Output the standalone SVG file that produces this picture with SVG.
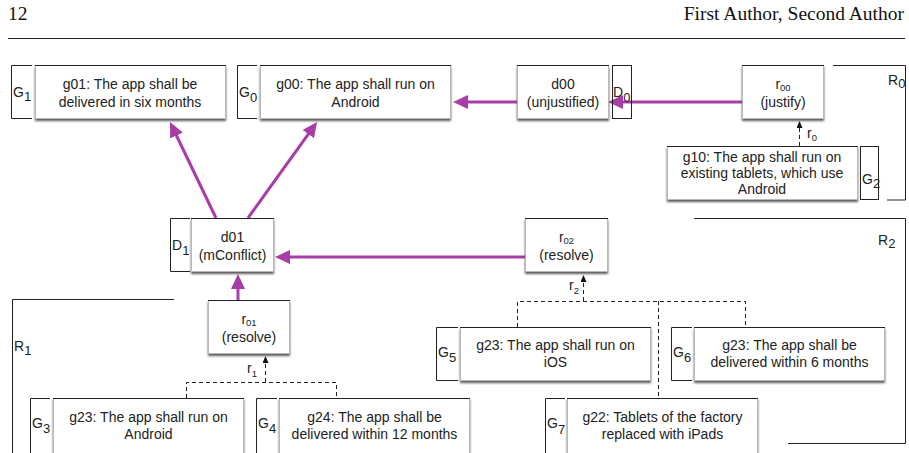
<svg xmlns="http://www.w3.org/2000/svg" width="909" height="453" viewBox="0 0 909 453">
<defs>
<filter id="sh" x="-5%" y="-10%" width="110%" height="130%">
<feDropShadow dx="0" dy="2" stdDeviation="1.2" flood-color="#333" flood-opacity="0.8"/>
</filter>
<marker id="ap" markerUnits="userSpaceOnUse" markerWidth="16" markerHeight="14" refX="5" refY="7" orient="auto">
<path d="M0,0 L15,7 L0,14 z" fill="#A83DA8"/>
</marker>
<marker id="ak" markerUnits="userSpaceOnUse" markerWidth="8" markerHeight="7" refX="2" refY="3" orient="auto">
<path d="M0,0 L7,3 L0,6 z" fill="#111"/>
</marker>
</defs>
<style>
.box{fill:#fff;stroke:#b8b8b8;stroke-width:1;filter:url(#sh)}
.top{stroke:#222;stroke-width:1.2}
.br{fill:none;stroke:#222;stroke-width:1}
.t{font-family:"Liberation Sans",Arial,sans-serif;font-size:14px;fill:#222;text-anchor:middle}
.l{font-family:"Liberation Sans",Arial,sans-serif;font-size:14px;fill:#222}
.s{font-size:13px}
.ss{font-size:9.5px}
.p{fill:none;stroke:#A83DA8;stroke-width:3;marker-end:url(#ap)}
.d{fill:none;stroke:#222;stroke-width:1;stroke-dasharray:4,3}
.hd{font-family:"Liberation Serif","Times New Roman",serif;font-size:19.5px;fill:#111}
</style>

<g id="header">
<text class="hd" x="8" y="20">12</text>
<text class="hd" x="904" y="20" text-anchor="end">First Author, Second Author</text>
<line x1="8" y1="38.5" x2="905" y2="38.5" stroke="#222" stroke-width="1"/>
</g>

<g id="regions">
<path class="br" d="M833,65.5 H905.5 V200 H887"/>
<text class="l" x="888" y="85">R<tspan class="s" dy="3">0</tspan></text>
<path class="br" d="M694,218.5 H905.5 V443.5 H788"/>
<text class="l" x="878" y="245">R<tspan class="s" dy="3">2</tspan></text>
<path class="br" d="M174,299.5 H12.5 V453"/>
<text class="l" x="14" y="351">R<tspan class="s" dy="4">1</tspan></text>
</g>

<g id="connectors">
<line class="p" x1="742" y1="102" x2="618" y2="102"/>
<line class="p" x1="517" y1="102" x2="463" y2="102"/>
<line class="p" x1="525" y1="257" x2="285" y2="257"/>
<line class="p" x1="238" y1="300" x2="238" y2="284"/>
<line class="p" x1="216" y1="218" x2="174.3" y2="131"/>
<line class="p" x1="248" y1="218" x2="311.2" y2="130.1"/>
<path class="d" d="M799.5,146 V126" marker-end="url(#ak)"/>
<path class="d" d="M186.5,398 V382.5 H336.5 V398"/>
<path class="d" d="M265.5,382 V361" marker-end="url(#ak)"/>
<path class="d" d="M517.5,327 V301.5 H745.5 V327"/>
<path class="d" d="M658.5,301 V398"/>
<path class="d" d="M583.5,301 V280" marker-end="url(#ak)"/>
<text class="l" x="807" y="138">r<tspan class="ss" dy="3">0</tspan></text>
<text class="l" x="247" y="373">r<tspan class="ss" dy="4">1</tspan></text>
<text class="l" x="569" y="290">r<tspan class="ss" dy="4">2</tspan></text>
</g>

<g id="G1">
<path class="br" d="M32,65.5 H11.5 V118.5 H32"/>
<text class="l" x="13" y="97">G<tspan class="s" dy="4">1</tspan></text>
<rect class="box" x="35.5" y="65.5" width="190" height="53"/>
<line class="top" x1="35" y1="65.5" x2="226" y2="65.5"/>
<text class="t" x="130" y="89">g01: The app shall be</text>
<text class="t" x="130" y="107">delivered in six months</text>
</g>

<g id="G0">
<path class="br" d="M257,65.5 H237.5 V118.5 H257"/>
<text class="l" x="239" y="97">G<tspan class="s" dy="5">0</tspan></text>
<rect class="box" x="260.5" y="65.5" width="190" height="53"/>
<line class="top" x1="260" y1="65.5" x2="451" y2="65.5"/>
<text class="t" x="355.5" y="89">g00: The app shall run on</text>
<text class="t" x="355.5" y="107">Android</text>
</g>

<g id="D0">
<rect class="br" x="612.5" y="65.5" width="19" height="53"/>
<text class="l" x="613" y="97">D<tspan class="s" dy="5">0</tspan></text>
<rect class="box" x="517.5" y="65.5" width="91" height="53"/>
<line class="top" x1="517" y1="65.5" x2="609" y2="65.5"/>
<text class="t" x="563" y="89">d00</text>
<text class="t" x="563" y="107">(unjustified)</text>
</g>

<g id="r00">
<rect class="box" x="742.5" y="65.5" width="81" height="53"/>
<line class="top" x1="742" y1="65.5" x2="824" y2="65.5"/>
<text class="t" x="783" y="89">r<tspan class="ss" dy="2">00</tspan></text>
<text class="t" x="783" y="107">(justify)</text>
</g>

<g id="G2">
<rect class="br" x="860.5" y="146.5" width="18" height="53"/>
<text class="l" x="862" y="184">G<tspan class="s" dy="4">2</tspan></text>
<rect class="box" x="667.5" y="146.5" width="190" height="53"/>
<line class="top" x1="667" y1="146.5" x2="858" y2="146.5"/>
<text class="t" x="762" y="162">g10: The app shall run on</text>
<text class="t" x="762" y="178">existing tablets, which use</text>
<text class="t" x="762" y="194">Android</text>
</g>

<g id="D1">
<path class="br" d="M190,218.5 H170.5 V271.5 H190"/>
<text class="l" x="172" y="250">D<tspan class="s" dy="5">1</tspan></text>
<rect class="box" x="191.5" y="218.5" width="82" height="53"/>
<line class="top" x1="191" y1="218.5" x2="274" y2="218.5"/>
<text class="t" x="232.5" y="242">d01</text>
<text class="t" x="232.5" y="260">(mConflict)</text>
</g>

<g id="r02">
<rect class="box" x="525.5" y="218.5" width="82" height="53"/>
<line class="top" x1="525" y1="218.5" x2="608" y2="218.5"/>
<text class="t" x="566.5" y="242">r<tspan class="ss" dy="2">02</tspan></text>
<text class="t" x="566.5" y="260">(resolve)</text>
</g>

<g id="r01">
<rect class="box" x="208.5" y="300.5" width="81" height="53"/>
<line class="top" x1="208" y1="300.5" x2="290" y2="300.5"/>
<text class="t" x="249" y="324">r<tspan class="ss" dy="2">01</tspan></text>
<text class="t" x="249" y="342">(resolve)</text>
</g>

<g id="G5">
<path class="br" d="M458,327.5 H436.5 V380.5 H458"/>
<text class="l" x="438" y="357">G<tspan class="s" dy="5">5</tspan></text>
<rect class="box" x="460.5" y="327.5" width="190" height="53"/>
<line class="top" x1="460" y1="327.5" x2="651" y2="327.5"/>
<text class="t" x="555.5" y="350">g23: The app shall run on</text>
<text class="t" x="555.5" y="367">iOS</text>
</g>

<g id="G6">
<path class="br" d="M692,327.5 H671.5 V380.5 H692"/>
<text class="l" x="673" y="357">G<tspan class="s" dy="5">6</tspan></text>
<rect class="box" x="694.5" y="327.5" width="190" height="53"/>
<line class="top" x1="694" y1="327.5" x2="885" y2="327.5"/>
<text class="t" x="789.5" y="350">g23: The app shall be</text>
<text class="t" x="789.5" y="367">delivered within 6 months</text>
</g>

<g id="G3">
<path class="br" d="M50,398.5 H30.5 V460"/>
<text class="l" x="32" y="428">G<tspan class="s" dy="5">3</tspan></text>
<rect class="box" x="53.5" y="398.5" width="190" height="62"/>
<line class="top" x1="53" y1="398.5" x2="244" y2="398.5"/>
<text class="t" x="148.5" y="422">g23: The app shall run on</text>
<text class="t" x="148.5" y="439">Android</text>
</g>

<g id="G4">
<path class="br" d="M277,398.5 H256.5 V460"/>
<text class="l" x="258" y="428">G<tspan class="s" dy="5">4</tspan></text>
<rect class="box" x="279.5" y="398.5" width="190" height="62"/>
<line class="top" x1="279" y1="398.5" x2="470" y2="398.5"/>
<text class="t" x="374.5" y="422">g24: The app shall be</text>
<text class="t" x="374.5" y="439">delivered within 12 months</text>
</g>

<g id="G7">
<path class="br" d="M565,398.5 H545.5 V460"/>
<text class="l" x="547" y="428">G<tspan class="s" dy="6">7</tspan></text>
<rect class="box" x="567.5" y="398.5" width="190" height="62"/>
<line class="top" x1="567" y1="398.5" x2="758" y2="398.5"/>
<text class="t" x="662.5" y="422">g22: Tablets of the factory</text>
<text class="t" x="662.5" y="439">replaced with iPads</text>
</g>
</svg>
